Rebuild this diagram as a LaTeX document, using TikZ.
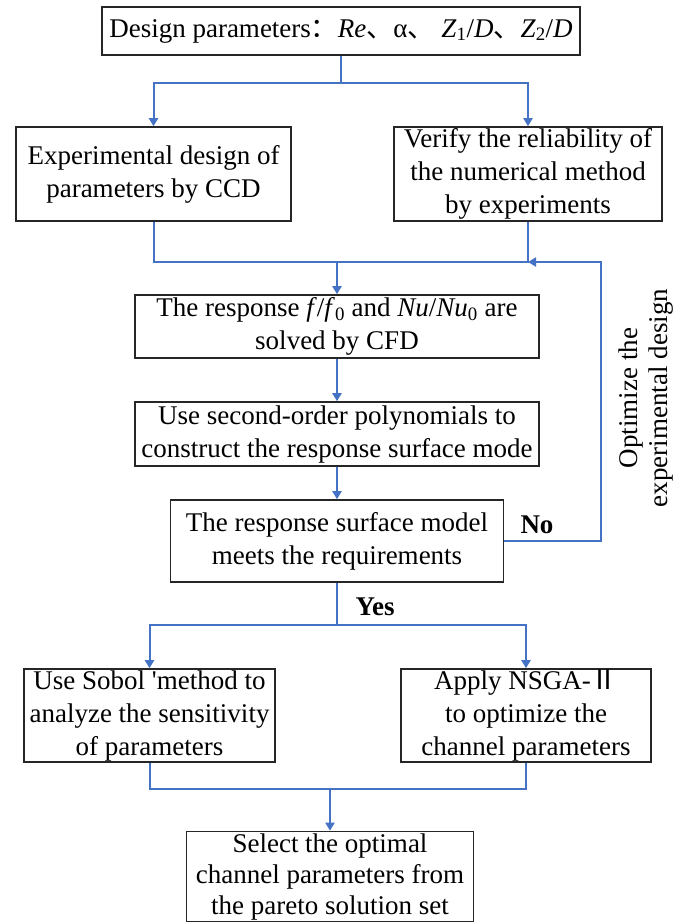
\documentclass[tikz,border=0pt]{standalone}
\usepackage{fontspec}
\setmainfont{Liberation Serif}
\newfontfamily\cjk{Noto Sans CJK SC}
\usetikzlibrary{arrows.meta}
\definecolor{flowblue}{RGB}{68,114,196}
\begin{document}
\begin{tikzpicture}[x=1pt,y=-1pt,
    box/.style={draw=black!85, line width=1.6pt, inner sep=0pt, align=center, font=\fontsize{27}{33}\selectfont},
    flow/.style={draw=flowblue, line width=2pt},
    flowarrow/.style={flow, -{Triangle[length=8pt,width=9pt]}},
    lbl/.style={font=\fontsize{27}{33}\selectfont\bfseries}]
    \useasboundingbox (0,0) rectangle (675,922);

    \node[box, minimum width=478pt, minimum height=48pt] (design) at (341,31) {Design parameters{\cjk ：}\textit{Re}{\cjk 、}α{\cjk 、} \textit{Z}\textsubscript{1}/\textit{D}{\cjk 、}\textit{Z}\textsubscript{2}/\textit{D}};
    \node[box, minimum width=275pt, minimum height=94pt] (ccd) at (153.5,174) {Experimental design of\\parameters by CCD};
    \node[box, minimum width=268pt, minimum height=94pt] (verify) at (528,174) {Verify the reliability of\\the numerical method\\by experiments};
    \node[box, minimum width=404pt, minimum height=63pt] (cfd) at (337,326.5) {The response \textit{f}/\textit{f}\textsubscript{0} and \textit{Nu}/\textit{Nu}\textsubscript{0} are\\solved by CFD};
    \node[box, minimum width=404pt, minimum height=64pt] (poly) at (337,434) {Use second-order polynomials to\\construct the response surface mode};
    \node[box, minimum width=333pt, minimum height=82pt] (check) at (337,541) {The response surface model\\meets the requirements};
    \node[box, minimum width=251pt, minimum height=93pt] (sobol) at (149.5,715.5) {Use Sobol \textquotesingle method to\\analyze the sensitivity\\of parameters};
    \node[box, minimum width=250pt, minimum height=93pt] (nsga) at (526,715.5) {Apply NSGA-{\cjk Ⅱ}\\to optimize the\\channel parameters};
    \node[box, minimum width=287pt, minimum height=90pt, font=\fontsize{27}{31}\selectfont] (select) at (330,876.5) {Select the optimal\\channel parameters from\\the pareto solution set};

    \node[lbl] (no) at (537,525) {No};
    \node[lbl] (yes) at (375,607) {Yes};
    \node[rotate=90, align=center, font=\fontsize{27}{30}\selectfont] (optimize) at (646,398) {Optimize the\\experimental design};

    \coordinate (split1) at (341,83);
    \coordinate (merge1) at (337,262);
    \coordinate (back) at (601,262);
    \coordinate (split2) at (337,625);
    \coordinate (merge2) at (330,789);

    \draw[flow] (design.south) -- (split1);
    \draw[flowarrow] (split1) -| (ccd.north);
    \draw[flowarrow] (split1) -| (verify.north);
    \draw[flow] (ccd.south) |- (merge1) -| (verify.south);
    \draw[flowarrow] (merge1) -- (cfd.north);
    \draw[flowarrow] (cfd.south) -- (poly.north);
    \draw[flowarrow] (poly.south) -- (check.north);
    \draw[flowarrow] (check.east) -| (back) -- (verify.south |- back);
    \draw[flow] (check.south) -- (split2);
    \draw[flowarrow] (split2) -| (sobol.north);
    \draw[flowarrow] (split2) -| (nsga.north);
    \draw[flow] (sobol.south) |- (merge2) -| (nsga.south);
    \draw[flowarrow] (merge2) -- (select.north);
\end{tikzpicture}
\end{document}
